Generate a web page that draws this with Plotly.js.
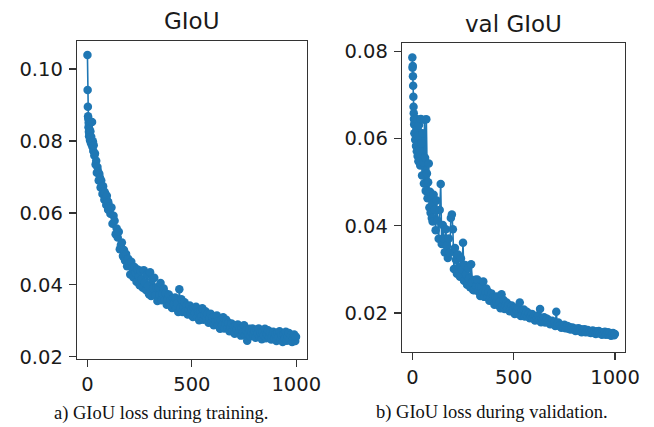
<!DOCTYPE html>
<html>
<head>
<meta charset="utf-8">
<script src="https://cdn.plot.ly/plotly-3.0.1.min.js"></script>
<style>html,body{margin:0;padding:0;background:#fff;}#chart{width:654px;height:427px;}</style>
</head>
<body>
<div id="chart"></div>
<script>
const epochs = [0,1,2,3,4,5,6,7,8,9,10,
12,14,16,18,20,22,24,26,28,30,
33,36,39,42,45,48,51,54,57,60,63,66,69,72,75,78,81,84,87,90,93,96,99,
100,105,110,115,120,125,130,135,140,145,150,155,160,165,170,175,180,185,190,195,200,
205,210,215,220,225,230,235,240,245,250,255,260,265,270,275,280,285,290,295,300,
305,310,315,320,325,330,335,340,345,350,355,360,365,370,375,380,385,390,395,400,
405,410,415,420,425,430,435,440,445,450,455,460,465,470,475,480,485,490,495,500,
505,510,515,520,525,530,535,540,545,550,555,560,565,570,575,580,585,590,595,600,
605,610,615,620,625,630,635,640,645,650,655,660,665,670,675,680,685,690,695,700,
705,710,715,720,725,730,735,740,745,750,755,760,765,770,775,780,785,790,795,800,
805,810,815,820,825,830,835,840,845,850,855,860,865,870,875,880,885,890,895,900,
905,910,915,920,925,930,935,940,945,950,955,960,965,970,975,980,985,990,995,999];

// Training GIoU loss
const trainGIoU = [0.1039,0.0942,0.0895,0.0869,0.0862,0.0838,0.0851,0.0826,0.0813,0.0834,0.0819,
0.0803,0.0827,0.0796,0.0812,0.0790,0.0853,0.0784,0.0799,0.0772,0.0788,
0.0760,0.0765,0.0735,0.0745,0.0712,0.0728,0.0716,0.0690,0.0708,0.0698,0.0671,0.0690,0.0676,0.0653,0.0674,0.0660,0.0637,0.0657,0.0641,0.0622,0.0648,0.0633,0.0609,
0.0630,0.0618,0.0598,0.0615,0.0570,0.0592,0.0578,0.0541,0.0557,0.0532,0.0548,0.0499,0.0511,0.0518,0.0480,0.0497,0.0468,0.0486,0.0452,0.0473,0.0460,
0.0429,0.0464,0.0447,0.0421,0.0450,0.0434,0.0409,0.0443,0.0423,0.0399,0.0439,0.0416,0.0392,0.0441,0.0406,0.0386,0.0429,0.0397,0.0374,0.0435,
0.0369,0.0416,0.0391,0.0420,0.0371,0.0393,0.0355,0.0394,0.0372,0.0405,0.0357,0.0375,0.0390,0.0358,0.0377,0.0345,0.0361,0.0373,0.0347,0.0359,
0.0336,0.0362,0.0348,0.0365,0.0336,0.0349,0.0325,0.0388,0.0336,0.0360,0.0325,0.0339,0.0352,0.0327,0.0343,0.0318,0.0332,0.0343,0.0320,0.0333,
0.0311,0.0336,0.0322,0.0339,0.0311,0.0325,0.0302,0.0326,0.0312,0.0335,0.0303,0.0316,0.0327,0.0305,0.0320,0.0295,0.0308,0.0320,0.0297,0.0310,
0.0288,0.0313,0.0299,0.0315,0.0288,0.0301,0.0278,0.0302,0.0288,0.0310,0.0279,0.0292,0.0303,0.0280,0.0295,0.0271,0.0283,0.0293,0.0272,0.0284,
0.0264,0.0288,0.0275,0.0290,0.0266,0.0278,0.0259,0.0280,0.0269,0.0288,0.0261,0.0273,0.0245,0.0264,0.0278,0.0257,0.0269,0.0279,0.0261,0.0272,
0.0253,0.0276,0.0265,0.0279,0.0256,0.0268,0.0249,0.0270,0.0259,0.0278,0.0252,0.0263,0.0274,0.0254,0.0268,0.0248,0.0260,0.0270,0.0251,0.0263,
0.0244,0.0267,0.0256,0.0271,0.0247,0.0260,0.0241,0.0262,0.0251,0.0270,0.0245,0.0256,0.0266,0.0248,0.0261,0.0241,0.0252,0.0262,0.0244,0.0256];

// Validation GIoU loss
const valGIoU = [0.0786,0.0762,0.0766,0.0743,0.0721,0.0696,0.0673,0.0658,0.0645,0.0632,0.0612,
0.0638,0.0597,0.0645,0.0583,0.0622,0.0571,0.0644,0.0560,0.0606,0.0548,
0.0631,0.0574,0.0538,0.0645,0.0589,0.0515,0.0612,0.0545,0.0497,0.0643,0.0556,0.0480,0.0644,0.0520,0.0463,0.0500,0.0543,0.0442,0.0478,0.0430,0.0462,0.0418,0.0450,
0.0410,0.0471,0.0437,0.0390,0.0458,0.0412,0.0370,0.0436,0.0496,0.0358,0.0402,0.0371,0.0339,0.0392,0.0354,0.0326,0.0371,0.0338,0.0418,0.0426,0.0392,
0.0301,0.0349,0.0322,0.0290,0.0334,0.0306,0.0283,0.0325,0.0299,0.0361,0.0274,0.0310,0.0288,0.0265,0.0303,0.0279,0.0259,0.0312,0.0270,0.0253,
0.0252,0.0276,0.0262,0.0277,0.0250,0.0261,0.0239,0.0260,0.0247,0.0272,0.0237,0.0248,0.0256,0.0237,0.0248,0.0228,0.0238,0.0245,0.0228,0.0236,
0.0219,0.0237,0.0226,0.0238,0.0218,0.0226,0.0211,0.0243,0.0216,0.0230,0.0209,0.0218,0.0224,0.0210,0.0219,0.0204,0.0211,0.0217,0.0204,0.0211,
0.0198,0.0212,0.0205,0.0213,0.0198,0.0224,0.0193,0.0205,0.0197,0.0208,0.0192,0.0198,0.0203,0.0192,0.0199,0.0188,0.0193,0.0198,0.0188,0.0193,
0.0183,0.0193,0.0188,0.0194,0.0183,0.0209,0.0179,0.0188,0.0183,0.0190,0.0178,0.0183,0.0187,0.0179,0.0183,0.0174,0.0179,0.0182,0.0175,0.0178,
0.0170,0.0203,0.0174,0.0178,0.0170,0.0172,0.0166,0.0172,0.0168,0.0173,0.0165,0.0168,0.0170,0.0164,0.0168,0.0162,0.0165,0.0167,0.0162,0.0164,
0.0159,0.0164,0.0162,0.0165,0.0159,0.0162,0.0156,0.0162,0.0158,0.0163,0.0156,0.0158,0.0161,0.0156,0.0159,0.0154,0.0157,0.0160,0.0154,0.0157,
0.0152,0.0158,0.0155,0.0159,0.0153,0.0155,0.0150,0.0156,0.0152,0.0157,0.0150,0.0153,0.0156,0.0150,0.0154,0.0148,0.0151,0.0154,0.0149,0.0152];

const xTicks = [0, 500, 1000];
const yTicksTrain = [0.02, 0.04, 0.06, 0.08, 0.10];
const yTicksVal = [0.02, 0.04, 0.06, 0.08];

const blue = '#1f77b4';
const W = 654, H = 427;
const px = v => v / W;
const py = v => 1 - v / H;

const tickFont = {family: 'DejaVu Sans', size: 19.5, color: '#1a1a1a'};

function trace(y, xa, ya) {
  return {
    x: epochs, y: y, xaxis: xa, yaxis: ya,
    type: 'scatter', mode: 'lines+markers',
    line: {color: blue, width: 1.6},
    marker: {color: blue, size: 8.5, line: {width: 0}},
    hoverinfo: 'skip', showlegend: false
  };
}

const axisBase = {
  showgrid: false, zeroline: false, showline: true, mirror: true,
  linecolor: '#333', linewidth: 1.3,
  ticks: 'outside', ticklen: 7, tickwidth: 1.2, tickcolor: '#333',
  tickfont: tickFont, fixedrange: true
};

const layout = {
  width: W, height: H,
  margin: {l: 0, r: 0, t: 0, b: 0},
  paper_bgcolor: '#fff', plot_bgcolor: '#fff',
  showlegend: false,
  xaxis: Object.assign({}, axisBase, {domain: [px(77), px(306.5)], range: [-50, 1049], tickvals: xTicks, anchor: 'y'}),
  yaxis: Object.assign({}, axisBase, {domain: [py(359), py(41)], range: [0.0194, 0.1078], tickvals: yTicksTrain, tickformat: '.2f', anchor: 'x', ticklabelstandoff: 2}),
  xaxis2: Object.assign({}, axisBase, {domain: [px(402), px(625)], range: [-51, 1049], tickvals: xTicks, anchor: 'y2'}),
  yaxis2: Object.assign({}, axisBase, {domain: [py(352), py(43)], range: [0.01106, 0.0819], tickvals: yTicksVal, tickformat: '.2f', anchor: 'x2', ticklabelstandoff: 2}),
  annotations: [
    {text: 'GIoU', x: px(191.5), y: py(21), xref: 'paper', yref: 'paper', xanchor: 'center', yanchor: 'middle', showarrow: false,
     font: {family: 'DejaVu Sans', size: 23, color: '#1a1a1a'}},
    {text: 'val GIoU', x: px(513.5), y: py(24), xref: 'paper', yref: 'paper', xanchor: 'center', yanchor: 'middle', showarrow: false,
     font: {family: 'DejaVu Sans', size: 23, color: '#1a1a1a'}},
    {text: 'a) GIoU loss during training.', x: px(161), y: py(413), xref: 'paper', yref: 'paper', xanchor: 'center', yanchor: 'middle', showarrow: false,
     font: {family: 'Liberation Serif', size: 18.5, color: '#111'}},
    {text: 'b) GIoU loss during validation.', x: px(492), y: py(412), xref: 'paper', yref: 'paper', xanchor: 'center', yanchor: 'middle', showarrow: false,
     font: {family: 'Liberation Serif', size: 18.5, color: '#111'}}
  ]
};

Plotly.newPlot('chart', [trace(trainGIoU, 'x', 'y'), trace(valGIoU, 'x2', 'y2')], layout, {staticPlot: true, displayModeBar: false});
</script>
</body>
</html>
